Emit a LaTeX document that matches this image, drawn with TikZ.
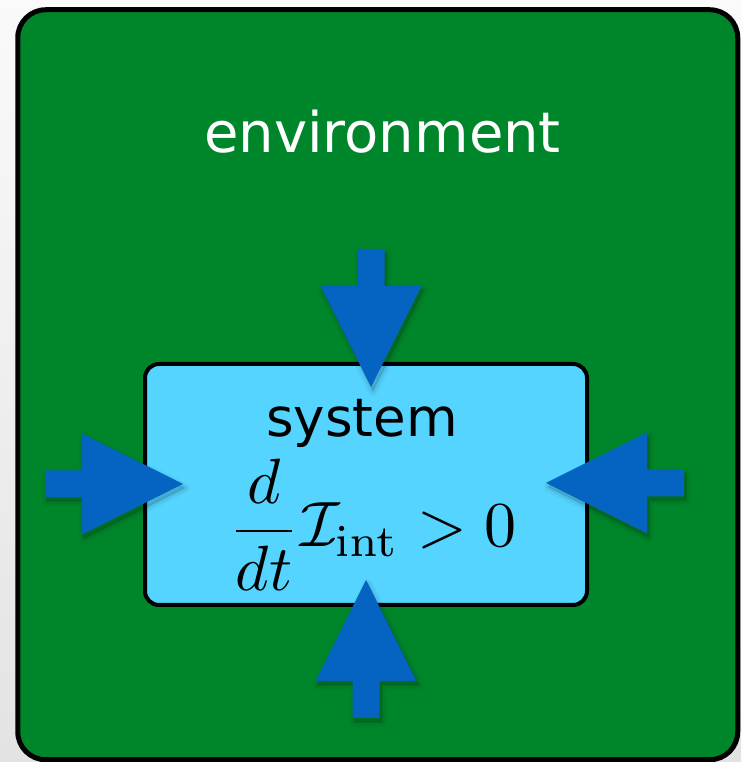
\documentclass[tikz,border=0pt]{standalone}
\usepackage[no-math]{fontspec}
\usepackage{amsmath}
\usepackage{graphicx}
\usetikzlibrary{calc}
\newfontfamily\labelfont{DejaVu Sans}
\definecolor{cEnv}{RGB}{0,134,42}
\definecolor{cSys}{RGB}{85,212,255}
\definecolor{cArr}{RGB}{5,99,193}
\tikzset{
  env/.style={draw=black, fill=cEnv, line width=5pt, rounded corners=28pt,
              minimum width=720pt, minimum height=750pt, inner sep=0pt, outer sep=0pt},
  sys/.style={draw=black, fill=cSys, line width=4pt, rounded corners=14pt,
              minimum width=442pt, minimum height=241pt, inner sep=0pt, outer sep=0pt},
  lbl/.style={anchor=base, inner sep=0pt},
  inarr/.style={fill=cArr},
  inshade/.style={draw=black, fill=black, line join=round},
}
% block arrow, tip at #1, pointing to angle #2
\newcommand{\flowin}[2]{%
  \foreach \w/\o in {10/.03,6/.04,2/.06}{
    \begin{scope}[shift={(#1)}, xshift=2pt, yshift=-4pt, rotate=#2]
      \path[inshade, opacity=\o, line width=\w pt] (0,0) -- (-101,50.5) -- (-101,13.5) -- (-138,13.5)
        -- (-138,-13.5) -- (-101,-13.5) -- (-101,-50.5) -- cycle;
    \end{scope}}
  \begin{scope}[shift={(#1)}, rotate=#2]
    \fill[inarr] (0,0) -- (-101,50.5) -- (-101,13.5) -- (-138,13.5)
      -- (-138,-13.5) -- (-101,-13.5) -- (-101,-50.5) -- cycle;
  \end{scope}}

\begin{document}
\begin{tikzpicture}[x=1pt, y=1pt]
  \useasboundingbox (0,0) rectangle (741,762);
  \shade[top color=black!2, bottom color=black!11] (0,0) rectangle (741,762);

  % environment
  \node[env] (env) at (377.75,377.25) {};
  \node[lbl, font=\labelfont\fontsize{56}{60}\selectfont, text=white] (envlbl) at (382.5,609) {environment};

  % system
  \node[sys] (sys) at (366,277.5) {};
  \node[lbl, font=\labelfont\fontsize{53}{58}\selectfont] (syslbl) at (362,325) {system};
  \node[lbl] (law) at (372.5,215)
    {\scalebox{6.4}{$\displaystyle\frac{d}{dt}\mathcal{I}_{\mathrm{int}} > 0$}};

  % flows into the system
  \coordinate (tipN) at ($(sys.north)+(5,-23)$);
  \coordinate (tipW) at ($(sys.west)+(38,0.5)$);
  \coordinate (tipE) at ($(sys.east)+(-41,1.5)$);
  \coordinate (tipS) at ($(sys.south)+(0,25)$);
  \flowin{tipN}{-90}
  \flowin{tipW}{0}
  \flowin{tipE}{180}
  \flowin{tipS}{90}
\end{tikzpicture}
\end{document}
